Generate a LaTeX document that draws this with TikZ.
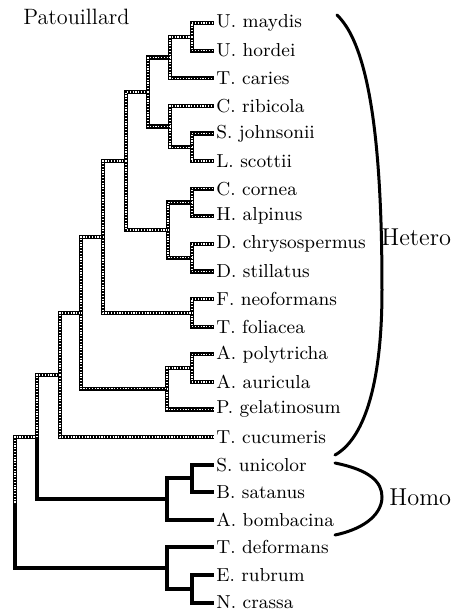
\documentclass[tikz,border=0pt]{standalone}
\usepackage{tikz}
\usetikzlibrary{calc}

\tikzset{
  leaf/.style={anchor=west, inner sep=1pt, font=\fontsize{9.4}{11}\selectfont},
  group/.style={anchor=west, inner sep=0pt, font=\fontsize{12.2}{14}\selectfont},
  hetline/.style={line width=2.1pt, black,
    postaction={draw=white, line width=0.7pt, dash pattern=on 0.6pt off 0.8pt}},
  homline/.style={line width=2pt, black},
  paren/.style={line width=1.5pt, line cap=round}
}

\begin{document}
\begin{tikzpicture}[x=0.5pt, y=-0.5pt]
  \useasboundingbox (0,0) rectangle (456,612);

  % Taxa
  \foreach \nm/\lab [count=\i from 0] in {um/U. maydis, uh/U. hordei, tc/T. caries,
      cr/C. ribicola, sj/S. johnsonii, ls/L. scottii, cc/C. cornea, ha/H. alpinus,
      dc/D. chrysospermus, ds/D. stillatus, fn/F. neoformans, tf/T. foliacea,
      ap/A. polytricha, aa/A. auricula, pg/P. gelatinosum, tcu/T. cucumeris,
      su/S. unicolor, bs/B. satanus, ab/A. bombacina,
      td/T. deformans, er/E. rubrum, nc/N. crassa}
    \node[leaf] (\nm) at (214, 23+27.6*\i) {\lab};

  % Internal nodes
  \coordinate (n1) at (192,36.8);
  \coordinate (n2) at (170,57.5);
  \coordinate (n3) at (192,147.2);
  \coordinate (n4) at (170,126.5);
  \coordinate (n5) at (148,92);
  \coordinate (n6) at (192,202.4);
  \coordinate (n7) at (192,257.6);
  \coordinate (n8) at (168,230);
  \coordinate (n9) at (126,161);
  \coordinate (n10) at (192,312.8);
  \coordinate (n11) at (103,236.9);
  \coordinate (n12) at (192,368);
  \coordinate (n13) at (167,388.7);
  \coordinate (n14) at (81,312.8);
  \coordinate (n15) at (60,374.9);
  \coordinate (n16) at (37,437);
  \coordinate (n17) at (192,478.4);
  \coordinate (n18) at (167,499.1);
  \coordinate (n19) at (192,588.8);
  \coordinate (n20) at (167,568.1);
  \coordinate (root) at (15,502.5);

  % Heterobasidiomycetes (dotted branches)
  \draw[hetline] (n1) |- (um.west);
  \draw[hetline] (n1) |- (uh.west);
  \draw[hetline] (n2) |- (n1);
  \draw[hetline] (n2) |- (tc.west);
  \draw[hetline] (n3) |- (sj.west);
  \draw[hetline] (n3) |- (ls.west);
  \draw[hetline] (n4) |- (cr.west);
  \draw[hetline] (n4) |- (n3);
  \draw[hetline] (n5) |- (n2);
  \draw[hetline] (n5) |- (n4);
  \draw[hetline] (n6) |- (cc.west);
  \draw[hetline] (n6) |- (ha.west);
  \draw[hetline] (n7) |- (dc.west);
  \draw[hetline] (n7) |- (ds.west);
  \draw[hetline] (n8) |- (n6);
  \draw[hetline] (n8) |- (n7);
  \draw[hetline] (n9) |- (n5);
  \draw[hetline] (n9) |- (n8);
  \draw[hetline] (n10) |- (fn.west);
  \draw[hetline] (n10) |- (tf.west);
  \draw[hetline] (n11) |- (n9);
  \draw[hetline] (n11) |- (n10);
  \draw[hetline] (n12) |- (ap.west);
  \draw[hetline] (n12) |- (aa.west);
  \draw[hetline] (n13) |- (n12);
  \draw[hetline] (n13) |- (pg.west);
  \draw[hetline] (n14) |- (n11);
  \draw[hetline] (n14) |- (n13);
  \draw[hetline] (n15) |- (n14);
  \draw[hetline] (n15) |- (tcu.west);
  \draw[hetline] (n16) |- (n15);
  \draw[hetline] (root) |- (n16);

  % Homobasidiomycetes and outgroup (solid branches)
  \draw[homline] (n17) |- (su.west);
  \draw[homline] (n17) |- (bs.west);
  \draw[homline] (n18) |- (n17);
  \draw[homline] (n18) |- (ab.west);
  \draw[homline] (n16) |- (n18);
  \draw[homline] (n19) |- (er.west);
  \draw[homline] (n19) |- (nc.west);
  \draw[homline] (n20) |- (td.west);
  \draw[homline] (n20) |- (n19);
  \draw[homline] (root) |- (n20);

  % Labels and brackets
  \node[group, font=\fontsize{11.1}{13}\selectfont] (title) at (23,17) {Patouillard};
  \draw[paren] (337,15) .. controls (374,50) and (382,170) .. (382,290)
    .. controls (382,390) and (362,440) .. (335,455);
  \node[group] (hetero) at (381,237) {Hetero};
  \draw[paren] (335,463) .. controls (370,470) and (382,482) .. (382,497)
    .. controls (382,512) and (368,528) .. (335,535);
  \node[group] (homo) at (389,497) {Homo};
\end{tikzpicture}
\end{document}
